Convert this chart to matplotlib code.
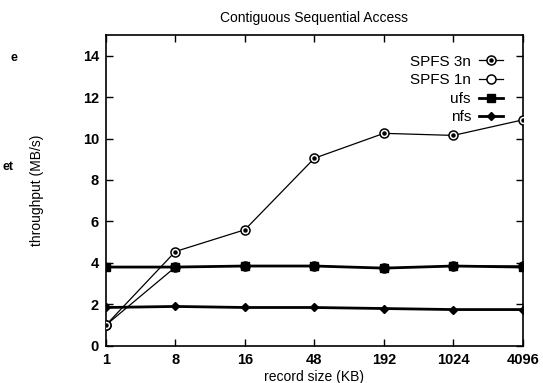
import matplotlib
matplotlib.use('Agg')
import matplotlib.pyplot as plt
from matplotlib.legend_handler import HandlerTuple

# data
record_size = ['1', '8', '16', '48', '192', '1024', '4096']
spfs_3n = [1.0, 4.55, 5.6, 9.05, 10.25, 10.15, 10.9]
spfs_1n = [1.0, 3.8, 3.85, 3.85, 3.75, 3.85, 3.85]
ufs = [3.8, 3.8, 3.85, 3.85, 3.75, 3.85, 3.8]
nfs = [1.85, 1.9, 1.85, 1.85, 1.8, 1.75, 1.75]

plt.rcParams['font.family'] = ['Liberation Sans', 'DejaVu Sans']

fig = plt.figure(figsize=(5.43, 3.83), dpi=100)
ax = fig.add_axes([0.195, 0.097, 0.768, 0.812])

x = list(range(len(record_size)))

l3, = ax.plot(x, spfs_3n, color='black', lw=0.9, marker='o', ms=6.5,
              mfc='white', mec='black', mew=1.1, zorder=3)
d3, = ax.plot(x, spfs_3n, ls='none', marker='o', ms=2.2, color='black', zorder=4)
l1, = ax.plot(x, spfs_1n, color='black', lw=0.9, marker='o', ms=6.5,
              mfc='white', mec='black', mew=1.1, zorder=2)
lu, = ax.plot(x, ufs, color='black', lw=2.0, marker='s', ms=5.5, zorder=3)
ln, = ax.plot(x, nfs, color='black', lw=2.0, marker='D', ms=4.5, zorder=3)

ax.set_xlim(0, 6)
ax.set_ylim(0, 15)
ax.set_xticks(x)
ax.set_xticklabels(record_size)
ax.set_yticks([0, 2, 4, 6, 8, 10, 12, 14])
ax.tick_params(direction='in', top=True, right=True, length=5, width=1,
               labelsize=10.5, pad=5)
for lab in ax.get_xticklabels() + ax.get_yticklabels():
    lab.set_fontweight('bold')
for s in ax.spines.values():
    s.set_linewidth(1.2)

ax.set_title('Contiguous Sequential Access', fontsize=10, pad=9)
ax.set_xlabel('record size (KB)', fontsize=10, labelpad=2)
ax.set_ylabel('throughput (MB/s)', fontsize=10, labelpad=28)

ax.legend([(l3, d3), l1, lu, ln], ['SPFS 3n', 'SPFS 1n', 'ufs', 'nfs'],
          handler_map={tuple: HandlerTuple(ndivide=1)},
          loc='upper right', markerfirst=False, frameon=False, fontsize=11,
          handlelength=1.6, handletextpad=0.5, labelspacing=0.3,
          borderaxespad=0.9)

# cropped text fragments from the neighbouring page
fig.text(0.02, 0.84, 'e', fontsize=9, fontweight='bold')
fig.text(0.005, 0.555, 'et', fontsize=9, fontweight='bold')

fig.savefig('out.png', dpi=100)
